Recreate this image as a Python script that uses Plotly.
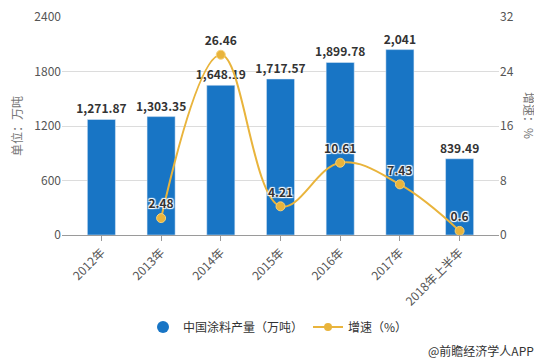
import plotly.graph_objects as go

categories = ["2012年", "2013年", "2014年", "2015年", "2016年", "2017年", "2018年上半年"]
output_vals = [1271.87, 1303.35, 1648.19, 1717.57, 1899.78, 2041, 839.49]
output_labels = ["1,271.87", "1,303.35", "1,648.19", "1,717.57", "1,899.78", "2,041", "839.49"]
growth_cats = ["2013年", "2014年", "2015年", "2016年", "2017年", "2018年上半年"]
growth_vals = [2.48, 26.46, 4.21, 10.61, 7.43, 0.6]
growth_labels = ["2.48", "26.46", "4.21", "10.61", "7.43", "0.6"]

BAR = "#1875C5"
LINE = "#E9B43C"
FONT = "Noto Sans CJK SC"
HALO = "1px 1px 1px white, -1px -1px 1px white, 1px -1px 1px white, -1px 1px 1px white"

# page body has an 8px margin, so the figure is placed at (8, 8)
OFF = 8
W, H = 542 - OFF, 364 - OFF
L, T, R, B = 62 - OFF, 17 - OFF, 542 - 499, 364 - 235
PW, PH = W - L - R, H - T - B


def px(x):
    return (x - OFF - L) / PW


def py(y):
    return (H - B - (y - OFF)) / PH


fig = go.Figure()
fig.add_trace(go.Bar(
    x=categories, y=output_vals, text=output_labels, textposition="outside",
    constraintext="none",
    textfont=dict(size=12, color="#333333", family=FONT, weight="bold"),
    marker=dict(color=BAR), width=0.47, cliponaxis=False,
    name="中国涂料产量（万吨）", showlegend=False,
))
fig.add_trace(go.Scatter(
    x=growth_cats, y=growth_vals, yaxis="y2", mode="lines+markers+text",
    line=dict(color=LINE, width=2, shape="spline", smoothing=1.1),
    marker=dict(color=LINE, size=9, line=dict(color="#F5D27A", width=1)),
    text=growth_labels, textposition="top center",
    textfont=dict(size=12, color="#333333", family=FONT, weight="bold", shadow=HALO),
    cliponaxis=False, name="增速（%）", showlegend=False,
))
# legend proxies
fig.add_trace(go.Scatter(x=[None], y=[None], mode="markers",
                         marker=dict(color=BAR, size=12, symbol="circle"),
                         name="中国涂料产量（万吨）"))
fig.add_trace(go.Scatter(x=[None], y=[None], mode="lines+markers",
                         line=dict(color=LINE, width=2),
                         marker=dict(color=LINE, size=8),
                         name="增速（%）"))

fig.update_layout(
    width=W, height=H,
    margin=dict(l=L, r=R, t=T, b=B, autoexpand=False),
    paper_bgcolor="white", plot_bgcolor="white",
    font=dict(family=FONT, size=12, color="#555555"),
    xaxis=dict(
        type="category", categoryorder="array", categoryarray=categories,
        range=[-0.66, 6.66], tickangle=-45, automargin=False,
        showline=True, linecolor="#9A9A9A", linewidth=1,
        ticks="outside", ticklen=5, tickcolor="#9A9A9A",
        showgrid=False, tickfont=dict(size=12, color="#555555"),
    ),
    yaxis=dict(
        range=[0, 2400], dtick=600, showgrid=True, gridcolor="#DCDCDC",
        zeroline=False, showline=False, ticks="", automargin=False,
        ticklabeloverflow="allow",
        tickfont=dict(size=12, color="#555555"),
        title=dict(text="单位：万吨", font=dict(size=12, color="#777777"), standoff=10),
    ),
    yaxis2=dict(
        range=[0, 32], dtick=8, overlaying="y", side="right", showgrid=False,
        zeroline=False, showline=False, ticks="", automargin=False,
        ticklabeloverflow="allow",
        tickfont=dict(size=12, color="#555555"),
    ),
    legend=dict(orientation="h", x=(278 - OFF) / W, xanchor="center", xref="container",
                y=(364 - 327) / H, yanchor="middle", yref="container",
                font=dict(size=12, color="#333333"), itemwidth=30),
    annotations=[
        dict(text="增速：%", textangle=90, xref="paper", yref="paper",
             x=px(530), y=py(115), xanchor="center", yanchor="middle",
             showarrow=False, font=dict(size=12, color="#777777")),
        dict(text="@前瞻经济学人APP", xref="paper", yref="paper",
             x=px(536), xanchor="right",
             y=py(350), yanchor="middle", showarrow=False,
             font=dict(size=12, color="#333333")),
    ],
)
fig.write_html("out.html")
